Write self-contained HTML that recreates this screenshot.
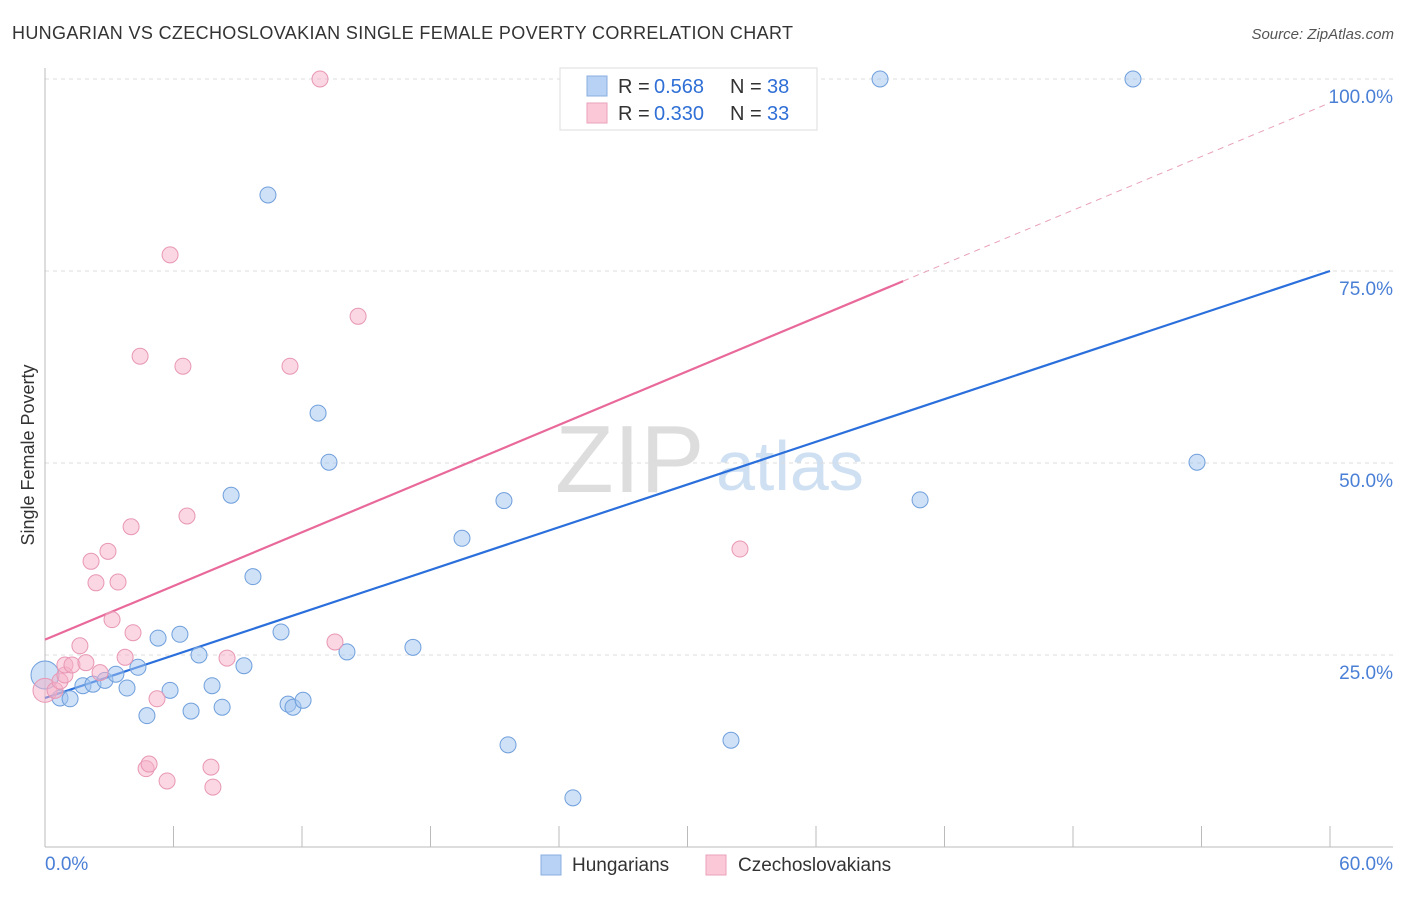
<!DOCTYPE html>
<html><head><meta charset="utf-8"><style>
body{margin:0;background:#fff;font-family:"Liberation Sans",sans-serif;}
svg text{font-family:"Liberation Sans",sans-serif;}
</style></head><body>
<svg id="chart" width="1406" height="892">
<text x="12" y="39" font-size="18" fill="#333" textLength="781">HUNGARIAN VS CZECHOSLOVAKIAN SINGLE FEMALE POVERTY CORRELATION CHART</text>
<text x="1394" y="39" font-size="15" fill="#555" text-anchor="end" font-style="italic">Source: ZipAtlas.com</text>
<text transform="translate(34,455) rotate(-90)" font-size="18" fill="#333" text-anchor="middle">Single Female Poverty</text>
<g><text x="555" y="492" font-size="96" font-family="Liberation Serif,serif" fill="#ddd">ZIP</text><text x="716" y="490" font-size="70" fill="#cfe0f3">atlas</text></g>
<g id="grid"></g><g id="axes"></g><g id="lines"></g><g id="pts"></g>
<g>
<rect x="560" y="68" width="257" height="62" fill="#fff" stroke="#ddd"/>
<rect x="587" y="76" width="20" height="20" fill="#b8d2f5" stroke="#88aee0"/>
<rect x="587" y="103" width="20" height="20" fill="#fbc8d8" stroke="#eaa2bb"/>
<text x="618" y="93" font-size="20" fill="#333">R =</text><text x="654" y="93" font-size="20" fill="#2f6fd6">0.568</text>
<text x="730" y="93" font-size="20" fill="#333">N =</text><text x="767" y="93" font-size="20" fill="#2f6fd6">38</text>
<text x="618" y="120" font-size="20" fill="#333">R =</text><text x="654" y="120" font-size="20" fill="#2f6fd6">0.330</text>
<text x="730" y="120" font-size="20" fill="#333">N =</text><text x="767" y="120" font-size="20" fill="#2f6fd6">33</text>
</g>
<g>
<rect x="541" y="855" width="20" height="20" fill="#b8d2f5" stroke="#88aee0"/>
<text x="572" y="871" font-size="19" fill="#333">Hungarians</text>
<rect x="706" y="855" width="20" height="20" fill="#fbc8d8" stroke="#eaa2bb"/>
<text x="738" y="871" font-size="19" fill="#333">Czechoslovakians</text>
</g>
</svg>
<script>
const yTicks=[25,50,75,100];
const yTickLabels=["25.0%","50.0%","75.0%","100.0%"];
const xTickLabels=["0.0%","60.0%"];
const hunX=[0,0.7,1.17,1.77,2.24,2.8,3.31,3.83,4.34,4.76,5.28,5.84,6.3,6.82,7.19,7.8,8.27,8.69,9.29,9.71,10.41,11.02,11.35,11.58,12.05,12.75,13.26,14.1,17.18,19.47,21.43,21.62,24.65,32.03,38.99,40.86,50.8,53.79];
const hunY=[22.4,19.4,19.3,21.0,21.2,21.7,22.5,20.7,23.4,17.1,27.2,20.4,27.7,17.7,25.0,21.0,18.2,45.8,23.6,35.2,84.9,28.0,18.6,18.2,19.1,56.5,50.1,25.4,26.0,40.2,45.1,13.3,6.4,13.9,100,45.2,100,50.1];
const czX=[0,0.47,0.7,0.93,0.93,1.26,1.63,1.91,2.15,2.38,2.57,2.94,3.13,3.41,3.74,4.02,4.11,4.44,4.72,4.86,5.23,5.7,5.84,6.44,6.63,7.75,7.84,8.5,11.44,12.84,13.54,14.62,32.45];
const czY=[20.4,20.4,21.6,22.4,23.7,23.7,26.2,24.0,37.2,34.4,22.7,38.5,29.6,34.5,24.7,41.7,27.9,63.9,10.2,10.8,19.3,8.6,77.1,62.6,43.1,10.4,7.8,24.6,62.6,100,26.7,69.1,38.8];
const hunLine=[19.4,75.0];
const czLine=[27.0,96.9];
const czSolidEnd=40.07;
const X=v=>45+v/60*1285, Y=v=>847-v/100*768;
const NS="http://www.w3.org/2000/svg";
function mk(p,t,a){const e=document.createElementNS(NS,t);for(const k in a)e.setAttribute(k,a[k]);document.getElementById(p).appendChild(e);return e;}
yTicks.forEach((t,i)=>{
 const g=mk('grid','line',{x1:45,x2:1393,y1:Y(t),y2:Y(t),stroke:'#ddd','stroke-dasharray':'4,4'});
 
 
 const l=mk('grid','text',{x:1393,y:Y(t)+24,'text-anchor':'end','font-size':19,fill:'#4a7fd6'});
 l.textContent=yTickLabels[i];
 
 
});
const ax=mk('axes','line',{x1:45,x2:45,y1:68,y2:847,stroke:'#bbb'});


const bx=mk('axes','line',{x1:45,x2:1393,y1:847,y2:847,stroke:'#bbb'});


for(let i=0;i<=10;i++){const t=mk('axes','line',{x1:X(i*6),x2:X(i*6),y1:826,y2:847,stroke:'#bbb'});
 
 }
[[0,'start',45],[60,'end',1393]].forEach((d,i)=>{const l=mk('axes','text',{x:d[2],y:870,'text-anchor':d[1],'font-size':19,fill:'#4a7fd6'});
 l.textContent=xTickLabels[i];
 
 });
const hl=mk('lines','line',{x1:X(0),y1:Y(hunLine[0]),x2:X(60),y2:Y(hunLine[1]),stroke:'#2a6fdb','stroke-width':2.2});


const cs=(czLine[1]-czLine[0])/60;
const cl=mk('lines','line',{x1:X(0),y1:Y(czLine[0]),x2:X(czSolidEnd),y2:Y(czLine[0]+cs*czSolidEnd),stroke:'#e8699a','stroke-width':2.2});


const cd=mk('lines','line',{x1:X(czSolidEnd),y1:Y(czLine[0]+cs*czSolidEnd),x2:X(60),y2:Y(czLine[1]),stroke:'#e8a0bb','stroke-width':1,'stroke-dasharray':'6,5'});


hunX.forEach((x,i)=>{const c=mk('pts','circle',{cx:X(x),cy:Y(hunY[i]),r:i==0?14:8,fill:'rgba(160,195,240,0.5)',stroke:'#6f9fdc','stroke-width':1});
 
 });
czX.forEach((x,i)=>{const c=mk('pts','circle',{cx:X(x),cy:Y(czY[i]),r:i==0?12:8,fill:'rgba(246,175,200,0.5)',stroke:'#e897b4','stroke-width':1});
 
 });
</script>
</body></html>
